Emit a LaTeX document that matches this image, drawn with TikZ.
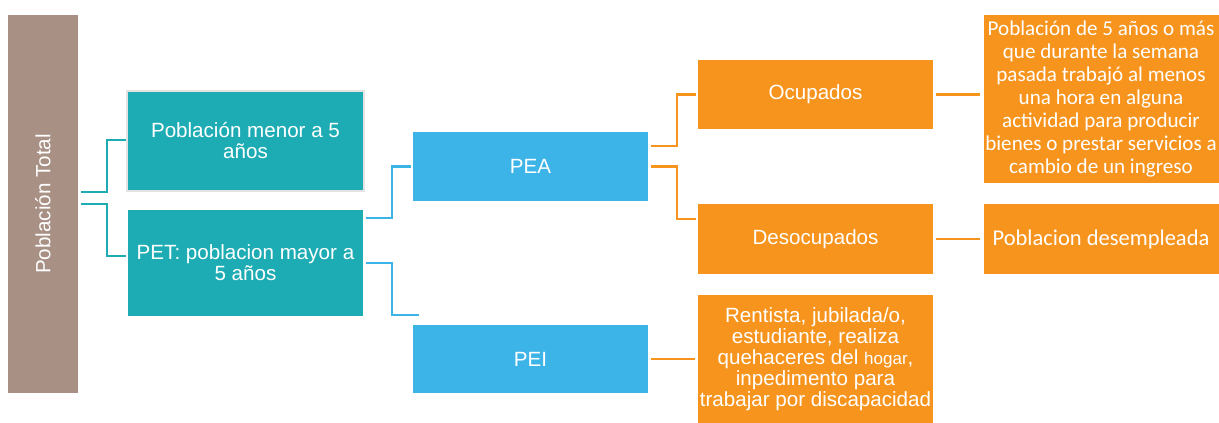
\documentclass[tikz,border=0pt]{standalone}
\usepackage{fontspec}
\setmainfont{Liberation Sans}
\newfontfamily\carlito{Carlito}
\usetikzlibrary{calc}
\definecolor{barbrown}{HTML}{A89084}
\definecolor{tealc}{HTML}{1EACB4}
\definecolor{bluec}{HTML}{3DB4E7}
\definecolor{orangec}{HTML}{F7941D}
\definecolor{rimgrey}{HTML}{E3E3E3}
\begin{document}
\begin{tikzpicture}[x=1pt,y=-1pt,
  box/.style={rectangle, inner sep=0pt, outer sep=0pt, text=white, align=center,
    minimum width=235pt, font=\fontsize{20.6}{21}\selectfont},
  tealbox/.style={box, fill=tealc},
  bluebox/.style={box, fill=bluec},
  orangebox/.style={box, fill=orangec},
  link/.style={line width=2.3pt},
  teallink/.style={link, draw=tealc},
  bluelink/.style={link, draw=bluec},
  orangelink/.style={link, draw=orangec}]
\useasboundingbox (0,0) rectangle (1219,423);

% left bar
\node[box, fill=barbrown, minimum width=70pt, minimum height=378pt] (bar) at (43,204) {};
\node[text=white, rotate=90, font=\fontsize{20.6}{21}\selectfont] (bartext) at (bar.center) {Población Total};

% teal level
\node[tealbox, minimum height=98pt] (menor) at (245.5,141) {Población menor a 5\\años};
\draw[rimgrey, line width=2pt] ($(menor.north west)+(-1,-1)$) rectangle ($(menor.south east)+(1,1)$);
\node[tealbox, minimum height=106pt] (pet) at (245.5,263) {PET: poblacion mayor a\\5 años};

% blue level
\node[bluebox, minimum height=69pt] (pea) at (530.5,166.5) {PEA};
\node[bluebox, minimum height=68pt] (pei) at (530.5,359) {PEI};

% orange level
\node[orangebox, minimum height=69pt] (ocup) at (815.5,94.5) {Ocupados};
\node[orangebox, minimum height=70pt] (deso) at (815.5,239) {Desocupados};
\node[orangebox, minimum height=128pt] (rent) at (815.5,359)
  {Rentista, jubilada/o,\\estudiante, realiza\\quehaceres del {\fontsize{17}{21}\selectfont hogar},\\inpedimento para\\trabajar por discapacidad};

% definitions
\node[orangebox, minimum height=168pt, font=\carlito\fontsize{21.1}{23}\selectfont] (def) at (1101,99)
  {Población de 5 años o más\\que durante la semana\\pasada trabajó al menos\\una hora en alguna\\actividad para producir\\bienes o prestar servicios a\\cambio de un ingreso};
\node[orangebox, minimum height=70pt, font=\carlito\fontsize{22.5}{24}\selectfont] (desemp) at (1101,239) {Poblacion desempleada};

% teal connectors
\draw[teallink] ($(bar.east)+(3,-12)$) -| ($(menor.west)+(-21,-1)$) -- ($(menor.west)+(-2,-1)$);
\draw[teallink] ($(bar.east)+(3,0)$) -| ($(pet.west)+(-21,-7)$) -- ($(pet.west)+(-2,-7)$);

% blue connectors
\draw[bluelink] ($(pet.east)+(3,-45)$) -| ($(pea.west)+(-21,0)$) -- ($(pea.west)+(-2,0)$);
\draw[bluelink] ($(pet.east)+(3,0)$) -| ($(pei.north west)+(-21,-10)$) -- ($(pei.north west)+(6,-10)$);

% orange connectors
\draw[orangelink] ($(pea.east)+(3,-20.5)$) -| ($(ocup.west)+(-21,0)$) -- ($(ocup.west)+(-2,0)$);
\draw[orangelink] ($(pea.east)+(3,0)$) -| ($(deso.west)+(-21,-20)$) -- ($(deso.west)+(-2,-20)$);
\draw[orangelink] ($(ocup.east)+(3,0)$) -- ($(def.west |- ocup.east)+(-4,0)$);
\draw[orangelink] ($(deso.east)+(3,0)$) -- ($(desemp.west)+(-4,0)$);
\draw[orangelink] ($(pei.east)+(3,0)$) -- ($(rent.west)+(-3,0)$);
\end{tikzpicture}
\end{document}
